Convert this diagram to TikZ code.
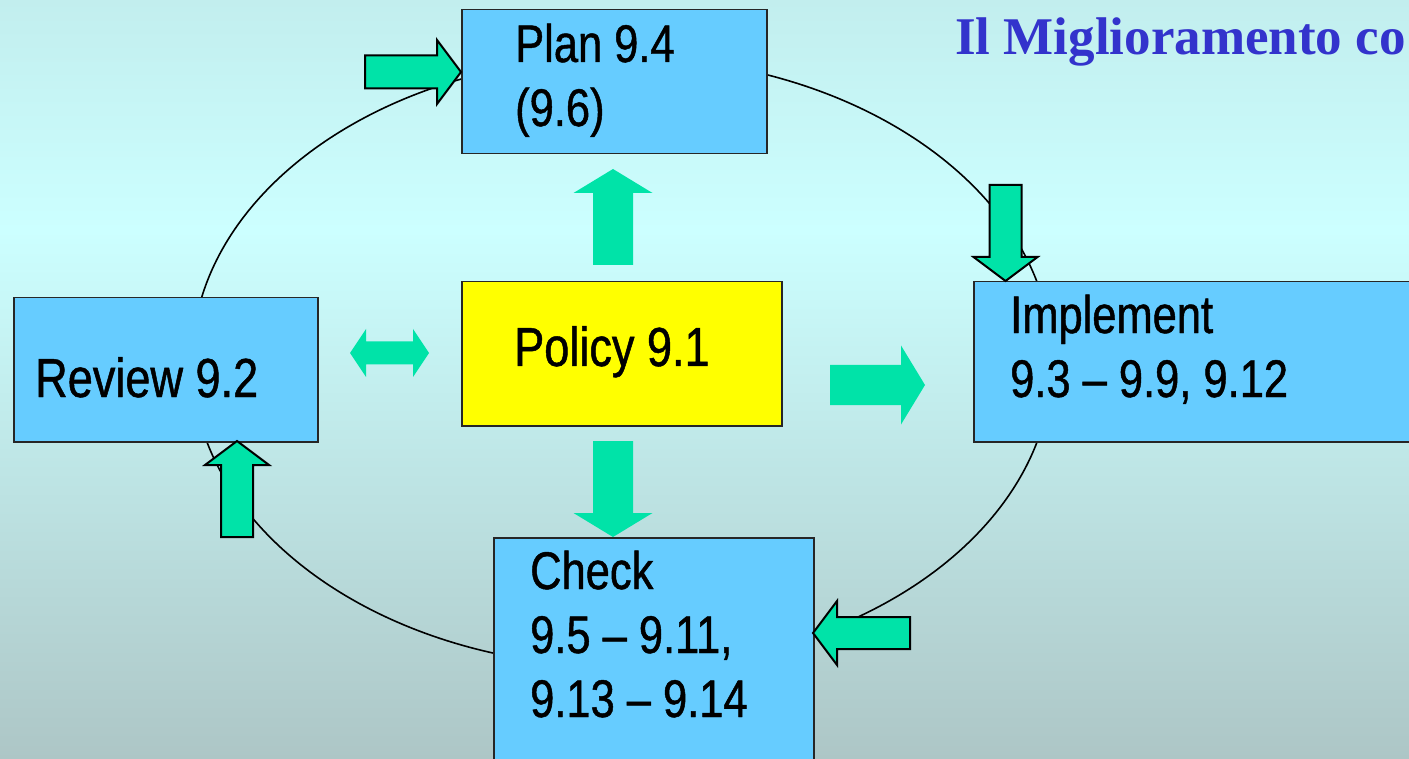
\documentclass[tikz,border=0pt]{standalone}
\usepackage{fontspec}
\setmainfont{Liberation Sans}[FakeStretch=0.82,FakeBold=0.9]
\newfontfamily\titlefont{Liberation Serif}
\definecolor{boxblue}{HTML}{66CCFF}
\definecolor{policyyellow}{HTML}{FFFF00}
\definecolor{arrowgreen}{HTML}{00E3A8}
\definecolor{titleblue}{HTML}{3333CC}
\definecolor{bgtop}{HTML}{C2EEEE}
\definecolor{bgmid}{HTML}{CCFFFF}
\definecolor{bgbot}{HTML}{ADC6C6}

\begin{document}
\begin{tikzpicture}[x=1pt,y=-1pt]
\tikzset{box/.style={rectangle, draw=black!85, line width=1.5pt, fill=boxblue, anchor=north west, inner sep=0pt}}
\tikzset{boxtext/.style={anchor=base west, inner sep=0pt, align=left, font=\fontsize{53}{64}\selectfont}}
\tikzset{flat/.style={fill=arrowgreen}}
\tikzset{rimmed/.style={fill=arrowgreen, draw=black, line width=2pt}}
\tikzset{pics/blockarrow/.style n args={4}{code={
  \path[#4] (0,-#2/2) -- (#1-24,-#2/2) -- (#1-24,-#3/2) -- (#1,0) -- (#1-24,#3/2) -- (#1-24,#2/2) -- (0,#2/2) -- cycle;
}}}
\tikzset{pics/twinarrow/.style={code={
  \path[flat] (-39.5,0) -- (-23.5,-24) -- (-23.5,-11.5) -- (23.5,-11.5) -- (23.5,-24) -- (39.5,0)
    -- (23.5,24) -- (23.5,11.5) -- (-23.5,11.5) -- (-23.5,24) -- cycle;
}}}
\useasboundingbox (0,0) rectangle (1409,759);
\clip (0,0) rectangle (1409,759);
% background
\fill[top color=bgtop, bottom color=bgmid] (0,0) rectangle (1409,231);
\fill[top color=bgmid, bottom color=bgbot] (0,230) rectangle (1409,759);
% cycle
\draw[line width=1.6pt] (622,362) ellipse [x radius=430, y radius=305];
% boxes
\node[box, minimum width=305pt, minimum height=144pt] (plan) at (461,9) {};
\node[box, fill=policyyellow, minimum width=320pt, minimum height=144pt] (policy) at (461,281) {};
\node[box, minimum width=304pt, minimum height=144pt] (review) at (13,297) {};
\node[box, minimum width=470pt, minimum height=160pt] (implement) at (973,281) {};
\node[box, minimum width=320pt, minimum height=260pt] (check) at (493,537) {};
% texts (base = last line)
\node[boxtext] (plantext) at (515,126) {Plan 9.4\\(9.6)};
\node[boxtext, font=\fontsize{55}{64}\selectfont] (policytext) at (514,366) {Policy 9.1};
\node[boxtext, font=\fontsize{55}{64}\selectfont] (reviewtext) at (35,397) {Review 9.2};
\node[boxtext] (implementtext) at (1010,397) {Implement\\9.3 – 9.9, 9.12};
\node[boxtext] (checktext) at (530,717) {Check\\9.5 – 9.11,\\9.13 – 9.14};
\node[anchor=base west, inner sep=0pt, text=titleblue, font=\titlefont\bfseries\fontsize{53}{64}\selectfont] (title) at (955,55) {Il Miglioramento co};
% block arrows
\pic at (365,72) {blockarrow={96}{33}{64}{rimmed}};
\pic[rotate=90] at (613,265) {blockarrow={96}{40}{79}{flat}};
\pic[rotate=-90] at (613,441) {blockarrow={96}{40}{79}{flat}};
\pic at (830,385) {blockarrow={95}{40}{79}{flat}};
\pic at (389.5,353) {twinarrow};
\pic[rotate=-90] at (1005.5,185) {blockarrow={96}{32}{64}{rimmed}};
\pic[rotate=180] at (910,633) {blockarrow={97}{32}{64}{rimmed}};
\pic[rotate=90] at (237,537) {blockarrow={96}{32}{64}{rimmed}};
\end{tikzpicture}
\end{document}
